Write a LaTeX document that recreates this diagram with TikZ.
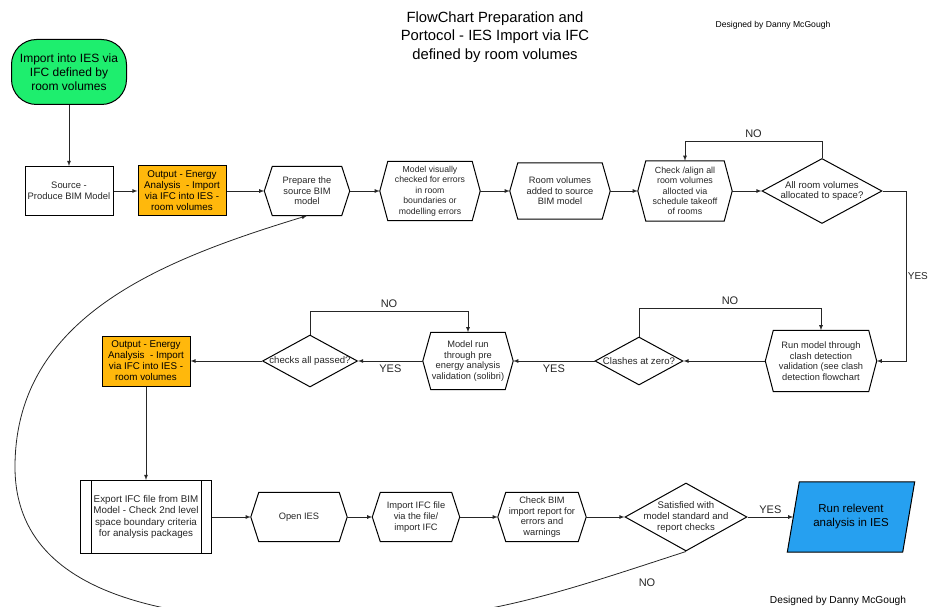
\documentclass[tikz,border=0pt]{standalone}
\usepackage{fontspec}
\setmainfont{Liberation Sans}
\usetikzlibrary{shapes.geometric,backgrounds}

\definecolor{startgreen}{RGB}{30,238,110}
\definecolor{outorange}{RGB}{255,184,12}
\definecolor{runblue}{RGB}{38,160,240}

\tikzset{
    box/.style={draw,line width=1pt,align=center,inner sep=1pt,text=black!85,
        font=\fontsize{9.4}{10.8}\selectfont},
    hexa/.style={align=center,inner sep=1pt,text=black!85,
        font=\fontsize{9.3}{10.6}\selectfont},
    outbox/.style={box,fill=outorange,text=black,minimum width=88pt,minimum height=50pt,
        font=\fontsize{9.8}{11}\selectfont},
    decide/.style={diamond,draw,line width=1pt,inner sep=0pt},
    dtext/.style={align=center,text=black!85,font=\fontsize{9.6}{10.8}\selectfont},
    conn/.style={-latex,line width=0.8pt,black!85},
    lbl/.style={font=\fontsize{11}{13}\selectfont,text=black!85}
}

\begin{document}
\begin{tikzpicture}[x=1pt,y=1pt]
    \useasboundingbox (0,0) rectangle (930,-607);

    \node[align=center,font=\fontsize{14.8}{18.5}\selectfont] (title) at (495,-37)
        {FlowChart Preparation and\\Portocol - IES Import via IFC\\defined by room volumes};
    \node[font=\fontsize{8.6}{10}\selectfont] (signtop) at (773,-25) {Designed by Danny McGough};
    \node[font=\fontsize{10.2}{12}\selectfont] (signbot) at (838,-601) {Designed by Danny McGough};

    % first row
    \node[draw,line width=1pt,fill=startgreen,rounded corners=25pt,align=center,
        minimum width=115pt,minimum height=65pt,font=\fontsize{12}{13.8}\selectfont]
        (start) at (69,-72) {Import into IES via\\IFC defined by\\room volumes};
    \node[box,minimum width=88pt,minimum height=49pt] (src) at (69,-191)
        {Source -\\Produce BIM Model};
    \node[outbox] (out1) at (182,-191)
        {Output - Energy\\Analysis\ \ - Import\\via IFC into IES -\\room volumes};
    \node[hexa,minimum width=85pt,minimum height=49pt] (prep) at (307,-191)
        {Prepare the\\source BIM\\model};
    \node[hexa,minimum width=100pt,minimum height=59pt,font=\fontsize{8.7}{10.4}\selectfont]
        (vis) at (430,-191)
        {Model visually\\checked for errors\\in room\\boundaries or\\modelling errors};
    \node[hexa,minimum width=100pt,minimum height=56pt] (room) at (560,-191)
        {Room volumes\\added to source\\BIM model};
    \node[hexa,minimum width=94pt,minimum height=60pt,font=\fontsize{8.9}{10.4}\selectfont]
        (align) at (685,-191)
        {Check /align all\\room volumes\\allocted via\\schedule takeoff\\of rooms};
    \node[decide,minimum width=120pt,minimum height=65pt,
        label={[dtext]center:{All room volumes\\allocated to space?}}] (alloc) at (822,-191) {};

    % second row
    \node[hexa,minimum width=111pt,minimum height=61pt] (clashrun) at (821,-361)
        {Run model through\\clash detection\\validation (see clash\\detection flowchart};
    \node[decide,minimum width=88pt,minimum height=48pt,
        label={[dtext]center:{Clashes at zero?}}] (clashzero) at (639,-361) {};
    \node[hexa,minimum width=90pt,minimum height=57pt] (prerun) at (468,-361)
        {Model run\\through pre\\energy analysis\\validation (solibri)};
    \node[decide,minimum width=95pt,minimum height=52pt,
        label={[dtext]center:{checks all passed?}}] (passed) at (310,-361) {};
    \node[outbox] (out2) at (146,-361)
        {Output - Energy\\Analysis\ \ - Import\\via IFC into IES -\\room volumes};

    % third row
    \node[box,minimum width=131pt,minimum height=73pt,font=\fontsize{9.8}{11.2}\selectfont]
        (export) at (146,-517)
        {Export IFC file from BIM\\Model - Check 2nd level\\space boundary criteria\\for analysis packages};
    \node[hexa,minimum width=96pt,minimum height=49pt] (openies) at (299,-517) {Open IES};
    \node[hexa,minimum width=87pt,minimum height=49pt] (impifc) at (416,-517)
        {Import IFC file\\via the file/\\import IFC};
    \node[hexa,minimum width=88pt,minimum height=49pt] (chkbim) at (542,-517)
        {Check BIM\\import report for\\errors and\\warnings};
    \node[decide,minimum width=122pt,minimum height=68pt,
        label={[dtext]center:{Satisfied with\\model standard and\\report checks}}] (sat) at (686,-517) {};
    \node[align=center,minimum width=115pt,minimum height=70pt,
        font=\fontsize{11.5}{14}\selectfont] (run) at (851,-517) {Run relevent\\analysis in IES};

    \foreach \n in {prep,vis,room,align,clashrun,prerun,openies,impifc,chkbim}
        \draw[line width=1pt] ([xshift=8pt]\n.north west) -- ([xshift=-8pt]\n.north east)
            -- (\n.east) -- ([xshift=-8pt]\n.south east) -- ([xshift=8pt]\n.south west)
            -- (\n.west) -- cycle;

    \draw[line width=1pt] ([xshift=11pt]export.north west) -- ([xshift=11pt]export.south west);
    \draw[line width=1pt] ([xshift=-11pt]export.north east) -- ([xshift=-11pt]export.south east);

    \begin{scope}[on background layer]
        \filldraw[fill=runblue,line width=1pt] ([xshift=-6pt]run.south west)
            -- ([xshift=6pt]run.north west) -- ([xshift=6pt]run.north east)
            -- ([xshift=-6pt]run.south east) -- cycle;
    \end{scope}

    % connectors
    \draw[conn] (start) -- (src);
    \draw[conn] (src) -- (out1);
    \draw[conn] (out1) -- (prep.west);
    \draw[conn] (prep.east) -- (vis.west);
    \draw[conn] (vis.east) -- (room.west);
    \draw[conn] (room.east) -- (align.west);
    \draw[conn] (align.east) -- (alloc.west);
    \draw[conn] (alloc.north) -- ++(0,17) -| (align.north) node[lbl,pos=0.25,above] {NO};
    \draw[conn] (alloc.east) -- ++(24,0) |- (clashrun.east)
        node[lbl,pos=0.25,right,inner xsep=1pt,font=\fontsize{10}{12}\selectfont] {YES};

    \draw[conn] (clashrun.west) -- (clashzero.east);
    \draw[conn] (clashzero.north) -- ++(0,28) -| (clashrun.north) node[lbl,pos=0.25,above] {NO};
    \draw[conn] (clashzero.west) -- (prerun.east) node[lbl,midway,below] {YES};
    \draw[conn] (passed.north) -- ++(0,23) -| (prerun.north) node[lbl,pos=0.25,above] {NO};
    \draw[conn] (prerun.west) -- (passed.east) node[lbl,midway,below] {YES};
    \draw[conn] (passed.west) -- (out2.east);
    \draw[conn] (out2.south) -- (export.north);

    \draw[conn] (export.east) -- (openies.west);
    \draw[conn] (openies.east) -- (impifc.west);
    \draw[conn] (impifc.east) -- (chkbim.west);
    \draw[conn] (chkbim.east) -- (sat.west);
    \draw[conn] (sat.east) -- (run.west) node[lbl,midway,above] {YES};

    \coordinate (loopbot) at (340,-622);
    \coordinate (loopleft) at (15,-467);
    \draw[conn] (sat.south) to[out=198,in=0] (loopbot) to[out=180,in=-90] (loopleft)
        to[out=90,in=197] (prep.south);
    \node[lbl] (satno) at (647,-583) {NO};
\end{tikzpicture}
\end{document}
